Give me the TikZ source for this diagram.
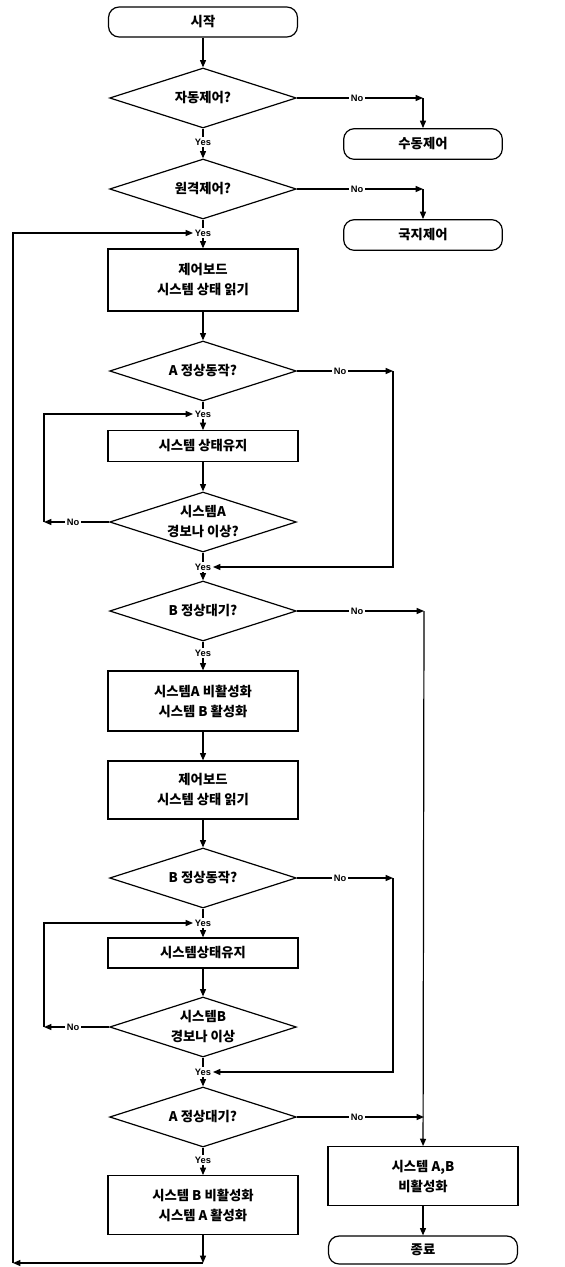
\documentclass[tikz,border=0pt]{standalone}
\usepackage{fontspec}
\newfontfamily\kr{Noto Sans CJK KR}
\newfontfamily\lat{Liberation Sans}
\usepackage{tikz}
\usetikzlibrary{shapes.geometric,arrows.meta}

\begin{document}
\begin{tikzpicture}[x=0.75pt,y=0.75pt,yscale=-1,xscale=1,
    line width=0.9pt,
    >={Triangle[length=5.5pt,width=4.5pt]},
    box/.style={draw,rectangle,minimum width=142.5pt,align=center,inner sep=2pt,
        font=\kr\bfseries\fontsize{10}{15}\selectfont},
    term/.style={draw,rectangle,rounded corners=8pt,minimum width=141.75pt,minimum height=22.5pt,
        font=\kr\bfseries\fontsize{10}{15}\selectfont},
    decide/.style={draw,diamond,aspect=3.1,inner sep=0pt,minimum width=140pt,minimum height=45pt,align=center,
        font=\kr\bfseries\fontsize{10}{15}\selectfont},
    lbl/.style={inner sep=1pt,font=\lat\bfseries\fontsize{7}{8}\selectfont}]
        \useasboundingbox (0,0) rectangle (564,1267);

        %Shape: Terminals
        \node [term] (start) at (203,22) {시작};
        \node [term,minimum width=119pt,minimum height=23pt] (manual) at (423,144) {수동제어};
        \node [term,minimum width=119pt,minimum height=23pt] (local) at (423,235) {국지제어};
        \node [term,minimum height=21pt] (stop) at (423,1250) {종료};

        %Shape: Diamonds
        \node [decide] (auto) at (203,98) {자동제어?};
        \node [decide] (remote) at (203,189) {원격제어?};
        \node [decide] (anorm) at (203,371) {A 정상동작?};
        \node [decide] (alarmA) at (203,522) {시스템A\\경보나 이상?};
        \node [decide] (bwait) at (203,611) {B 정상대기?};
        \node [decide] (bnorm) at (203,878) {B 정상동작?};
        \node [decide] (alarmB) at (203,1027) {시스템B\\경보나 이상};
        \node [decide] (await) at (203,1117) {A 정상대기?};

        %Shape: Boxes
        \node [box,minimum height=46.5pt] (read1) at (203,280) {제어보드\\시스템 상태 읽기};
        \node [box,minimum height=23pt] (keepA) at (203,446) {시스템 상태유지};
        \node [box,minimum height=45pt] (swapAB) at (203,701) {시스템A 비활성화\\시스템 B 활성화};
        \node [box,minimum height=43.5pt] (read2) at (203,790) {제어보드\\시스템 상태 읽기};
        \node [box,minimum height=22.5pt] (keepB) at (203,953) {시스템상태유지};
        \node [box,minimum height=44pt] (swapBA) at (203,1205) {시스템 B 비활성화\\시스템 A 활성화};
        \node [box,minimum height=44pt] (offAB) at (423,1176) {시스템 A,B\\비활성화};

        % Text Node: Yes / No
        \node [lbl] (y1) at (203,142) {Yes};
        \node [lbl] (y2) at (203,233) {Yes};
        \node [lbl] (y3) at (203,414) {Yes};
        \node [lbl] (y4) at (203,567) {Yes};
        \node [lbl] (y5) at (203,653) {Yes};
        \node [lbl] (y6) at (203,923) {Yes};
        \node [lbl] (y7) at (203,1072) {Yes};
        \node [lbl] (y8) at (203,1160) {Yes};
        \node [lbl] (n1) at (357,98) {No};
        \node [lbl] (n2) at (357,189) {No};
        \node [lbl] (n3) at (340,371) {No};
        \node [lbl] (n4) at (73,522) {No};
        \node [lbl] (n5) at (357,611) {No};
        \node [lbl] (n6) at (340,878) {No};
        \node [lbl] (n7) at (73,1027) {No};
        \node [lbl] (n8) at (357,1117) {No};

        %Corners
        \coordinate (c1) at (423,98);
        \coordinate (c2) at (423,189);
        \coordinate (c3) at (393,371);
        \coordinate (c3b) at (393,567);
        \coordinate (c4) at (44,522);
        \coordinate (c4b) at (44,414);
        \coordinate (c5) at (424,611);
        \coordinate (c6) at (393,878);
        \coordinate (c6b) at (393,1072);
        \coordinate (c7) at (44,1027);
        \coordinate (c7b) at (44,923);
        \coordinate (c8) at (424,1117);
        \coordinate (bot) at (203,1263);
        \coordinate (bl) at (13,1263);
        \coordinate (tl) at (13,233);

        %Straight Lines: main column
        \draw [->] (start) -- (auto);
        \draw (auto.south) -- (y1);
        \draw [->] (y1) -- (remote);
        \draw (remote.south) -- (y2);
        \draw [->] (y2) -- (read1);
        \draw [->] (read1) -- (anorm);
        \draw (anorm.south) -- (y3);
        \draw [->] (y3) -- (keepA);
        \draw [->] (keepA) -- (alarmA);
        \draw (alarmA.south) -- (y4);
        \draw [->] (y4) -- (bwait);
        \draw (bwait.south) -- (y5);
        \draw [->] (y5) -- (swapAB);
        \draw [->] (swapAB) -- (read2);
        \draw [->] (read2) -- (bnorm);
        \draw (bnorm.south) -- (y6);
        \draw [->] (y6) -- (keepB);
        \draw [->] (keepB) -- (alarmB);
        \draw (alarmB.south) -- (y7);
        \draw [->] (y7) -- (await);
        \draw (await.south) -- (y8);
        \draw [->] (y8) -- (swapBA);
        \draw [->] (swapBA) -- (bot);
        \draw [->] (bot) -- (bl);
        \draw [->] (bl) -- (tl) -- (y2);

        %Straight Lines: No branches
        \draw (auto.east) -- (n1);
        \draw [->] (n1) -- (c1);
        \draw [->] (c1) -- (manual);
        \draw (remote.east) -- (n2);
        \draw [->] (n2) -- (c2);
        \draw [->] (c2) -- (local);
        \draw (anorm.east) -- (n3);
        \draw [->] (n3) -- (c3);
        \draw [->] (c3) -- (c3b) -- (y4);
        \draw (alarmA.west) -- (n4);
        \draw [->] (n4) -- (c4);
        \draw [->] (c4) -- (c4b) -- (y3);
        \draw (bwait.east) -- (n5);
        \draw [->] (n5) -- (c5);
        \draw [->] (c5) -- (offAB);
        \draw (bnorm.east) -- (n6);
        \draw [->] (n6) -- (c6);
        \draw [->] (c6) -- (c6b) -- (y7);
        \draw (alarmB.west) -- (n7);
        \draw [->] (n7) -- (c7);
        \draw [->] (c7) -- (c7b) -- (y6);
        \draw (await.east) -- (n8);
        \draw [->] (n8) -- (c8);
        \draw [->] (offAB) -- (stop);

    \end{tikzpicture}
\end{document}
